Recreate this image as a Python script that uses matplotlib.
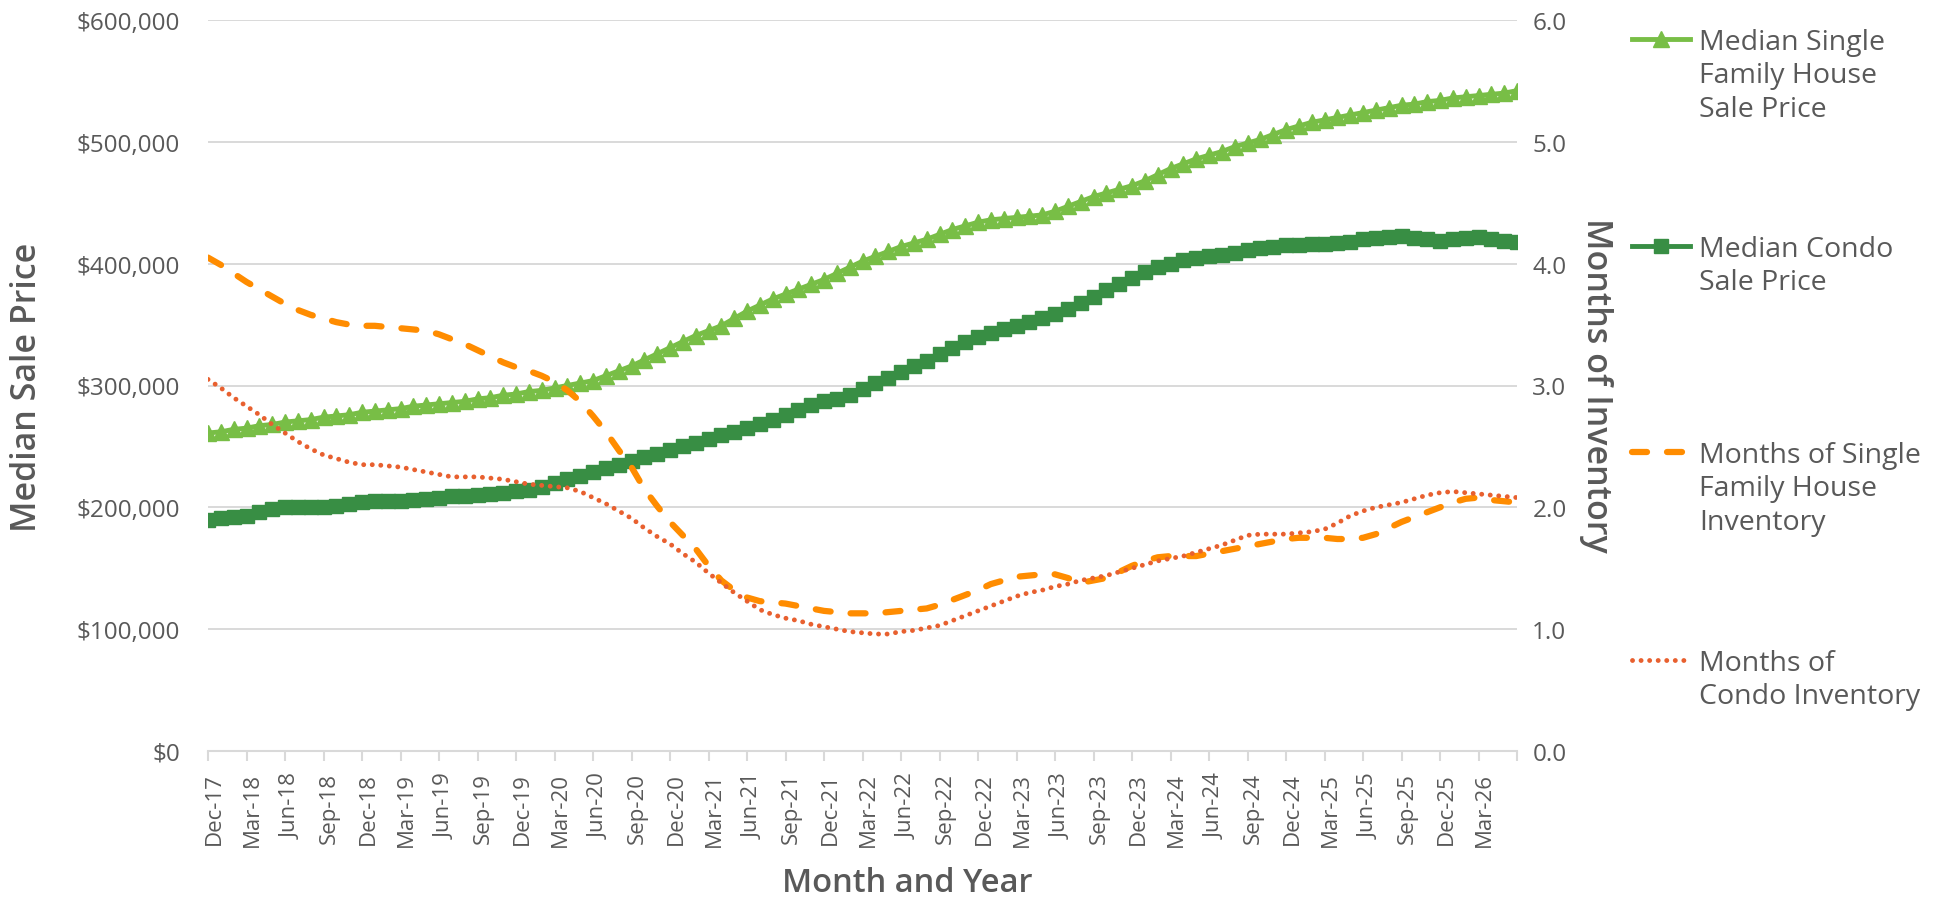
import matplotlib
matplotlib.use('Agg')
import matplotlib.pyplot as plt
import matplotlib.ticker as mtick
import matplotlib.transforms as mtrans
from matplotlib.lines import Line2D
import numpy as np
import pandas as pd

# ------------------------- Data ---------------------------
# median sale prices in thousands of $, one value per month from Dec-17
sf_price = [261, 262, 264, 265, 267, 268, 270, 271, 272, 274, 275, 276,
            278, 279, 280, 281, 283, 284, 285, 286, 287, 289, 290, 292,
            293, 295, 296, 298, 300, 302, 304, 308, 312, 316, 321, 326,
            331, 336, 341, 345, 349, 355, 361, 366, 371, 375, 379, 383,
            387, 392, 397, 402, 406, 410, 414, 417, 420, 424, 428, 431,
            434, 436, 437, 438, 439, 440, 443, 447, 451, 455, 458, 461,
            464, 468, 473, 478, 482, 486, 489, 492, 496, 499, 502, 506,
            510, 513, 516, 518, 520, 522, 524, 526, 528, 530, 531, 533,
            534, 536, 537, 538, 539, 540, 542]
condo_price = [190, 191, 192, 193, 196, 199, 200, 200, 200, 200, 201, 203,
               204, 205, 205, 205, 206, 207, 208, 209, 209, 210, 211, 212,
               213, 214, 217, 220, 223, 226, 229, 232, 235, 238, 241, 244,
               247, 250, 253, 256, 259, 262, 265, 268, 272, 276, 280, 284,
               287, 289, 292, 297, 302, 306, 311, 316, 320, 326, 331, 336,
               340, 343, 346, 349, 352, 355, 359, 363, 368, 373, 378, 383,
               388, 393, 397, 400, 403, 405, 406, 407, 409, 411, 413, 414,
               415, 415, 416, 416, 417, 418, 420, 421, 422, 423, 421, 420,
               419, 420, 421, 422, 420, 419, 418]
# months of inventory
sf_inv = [4.05, 3.99, 3.92, 3.85, 3.79, 3.73, 3.67, 3.62, 3.58, 3.55, 3.52, 3.50,
          3.49, 3.49, 3.48, 3.47, 3.46, 3.45, 3.42, 3.38, 3.34, 3.29, 3.24, 3.19,
          3.15, 3.12, 3.08, 3.03, 2.96, 2.87, 2.75, 2.62, 2.47, 2.33, 2.15, 2.01,
          1.88, 1.77, 1.66, 1.52, 1.40, 1.32, 1.26, 1.23, 1.22, 1.21, 1.19, 1.17,
          1.15, 1.14, 1.13, 1.13, 1.13, 1.14, 1.15, 1.16, 1.17, 1.20, 1.24, 1.28,
          1.32, 1.37, 1.40, 1.43, 1.44, 1.45, 1.45, 1.42, 1.38, 1.40, 1.42, 1.47,
          1.52, 1.56, 1.59, 1.60, 1.60, 1.60, 1.62, 1.64, 1.66, 1.68, 1.70, 1.72,
          1.74, 1.75, 1.75, 1.75, 1.74, 1.74, 1.75, 1.78, 1.83, 1.88, 1.92, 1.96,
          2.00, 2.04, 2.07, 2.08, 2.06, 2.05, 2.04]
condo_inv = [3.05, 2.98, 2.90, 2.83, 2.76, 2.68, 2.61, 2.54, 2.48, 2.43, 2.40, 2.37,
             2.35, 2.35, 2.34, 2.33, 2.31, 2.29, 2.27, 2.25, 2.25, 2.25, 2.24, 2.23,
             2.21, 2.19, 2.18, 2.17, 2.16, 2.13, 2.08, 2.03, 1.97, 1.91, 1.83, 1.76,
             1.70, 1.62, 1.55, 1.46, 1.38, 1.30, 1.23, 1.16, 1.12, 1.09, 1.07, 1.04,
             1.02, 1.00, 0.98, 0.97, 0.96, 0.96, 0.98, 0.99, 1.01, 1.03, 1.07, 1.11,
             1.15, 1.19, 1.23, 1.27, 1.30, 1.32, 1.35, 1.37, 1.40, 1.42, 1.44, 1.47,
             1.50, 1.53, 1.56, 1.58, 1.60, 1.63, 1.66, 1.69, 1.73, 1.77, 1.78, 1.78,
             1.78, 1.79, 1.80, 1.82, 1.87, 1.93, 1.97, 2.00, 2.02, 2.04, 2.07, 2.10,
             2.12, 2.13, 2.12, 2.11, 2.10, 2.09, 2.08]
months = pd.date_range('2017-12-01', periods=len(sf_price), freq='MS').strftime('%b-%y')

labels = ['Median Single\nFamily House\nSale Price',
          'Median Condo\nSale Price',
          'Months of Single\nFamily House\nInventory',
          'Months of\nCondo Inventory']
# ----------------------------------------------------------

plt.rcParams['font.family'] = ['Open Sans', 'DejaVu Sans']
grey = '#595959'
gridc = '#d9d9d9'
c_sf = '#78be46'
c_condo = '#388e44'
c_sfinv = '#ff8c00'
c_condoinv = '#e8602f'

W, H = 1944, 904
fig = plt.figure(figsize=(W / 100, H / 100), dpi=100)
ax = fig.add_axes([208 / W, (H - 752) / H, (1517 - 208) / W, (752 - 21) / H])
x = np.arange(len(months))

sf_style = dict(color=c_sf, lw=3.5, marker='^', ms=11)
condo_style = dict(color=c_condo, lw=3.5, marker='s', ms=10.5)
sfinv_style = dict(color=c_sfinv, lw=4.5, dashes=(2.4, 3.2), dash_capstyle='round')
condoinv_style = dict(color=c_condoinv, lw=3.5, dashes=(0.01, 1.75),
                      dash_capstyle='round')

ax.plot(x, np.array(sf_price) * 1000, zorder=3, **sf_style)
ax.plot(x, np.array(condo_price) * 1000, zorder=3, **condo_style)
ax.set_xlim(0, len(x) - 1)
ax.set_ylim(0, 600000)
ax.yaxis.set_major_locator(mtick.MultipleLocator(100000))
ax.yaxis.set_major_formatter(mtick.StrMethodFormatter('${x:,.0f}'))
ax.grid(axis='y', color=gridc, lw=1.4)
ax.set_axisbelow(True)
for s in ['top', 'left', 'right']:
    ax.spines[s].set_visible(False)
ax.spines['bottom'].set_color(gridc)
ax.spines['bottom'].set_linewidth(1.5)
ax.tick_params(axis='y', length=0, pad=20, labelsize=17.5, labelcolor=grey)

tick_pos = x[::3]
ax.set_xticks(tick_pos)
ax.set_xticklabels([months[i] if i < len(x) - 1 else '' for i in tick_pos],
                   rotation=90)
ax.tick_params(axis='x', length=7, width=1.5, color=gridc, pad=8,
               labelsize=16, labelcolor=grey)
shift = mtrans.ScaledTranslation(6 / 100, 0, fig.dpi_scale_trans)
for lab in ax.get_xticklabels():
    lab.set_transform(lab.get_transform() + shift)

ax2 = ax.twinx()
ax2.plot(x, sf_inv, **sfinv_style)
ax2.plot(x, condo_inv, **condoinv_style)
ax2.set_ylim(0, 6)
ax2.yaxis.set_major_locator(mtick.MultipleLocator(1))
ax2.yaxis.set_major_formatter(mtick.StrMethodFormatter('{x:.1f}'))
for s in ['top', 'left', 'right', 'bottom']:
    ax2.spines[s].set_visible(False)
ax2.tick_params(axis='y', length=0, pad=11, labelsize=17.5, labelcolor=grey)

# axis titles
fig.text(27 / W, 1 - 387 / H, 'Median Sale Price', rotation=90, ha='center',
         va='center', fontsize=24.5, fontweight='semibold', color=grey)
fig.text(1596 / W, 1 - 385 / H, 'Months of Inventory', rotation=270,
         ha='center', va='center', fontsize=24.5, fontweight='semibold', color=grey)
fig.text(907 / W, 1 - 884 / H, 'Month and Year', ha='center', va='center',
         fontsize=23.5, fontweight='semibold', color=grey)

# legend on the right, one entry every ~207 px
rows = [40, 247, 453, 661]
for lab, st, yy in zip(labels, [sf_style, condo_style, sfinv_style, condoinv_style], rows):
    yf = 1 - yy / H
    ln = Line2D([1632 / W, 1661 / W, 1690 / W], [yf, yf, yf],
                transform=fig.transFigure, markevery=[1], **st)
    fig.add_artist(ln)
    fig.text(1699 / W, 1 - (yy - 11) / H, lab, ha='left', va='top',
             fontsize=20.5, color=grey, linespacing=1.26)

fig.savefig('out.png', dpi=100)
